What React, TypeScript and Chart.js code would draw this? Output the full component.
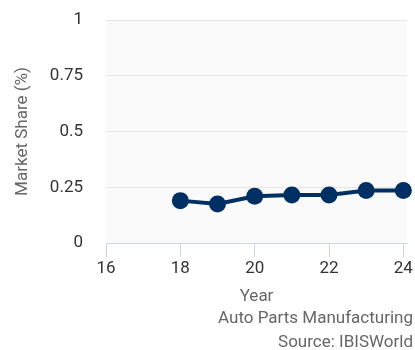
import React, { useEffect, useRef } from "react";
import { Chart, registerables } from "chart.js";

Chart.register(...registerables);

const years = [18, 19, 20, 21, 22, 23, 24];
const marketShare = [0.19, 0.175, 0.21, 0.215, 0.215, 0.235, 0.235];
const yTicks = [0, 0.25, 0.5, 0.75, 1];
const xTicks = [16, 18, 20, 22, 24];
const creditLines = ["Auto Parts Manufacturing", "Source: IBISWorld"];

const FONT = "Roboto";

const bgPlugin = {
  id: "plotBg",
  beforeDraw(chart: any) {
    const { ctx, chartArea } = chart;
    ctx.save();
    ctx.fillStyle = "#fafafa";
    ctx.fillRect(chartArea.left, chartArea.top, chartArea.right - chartArea.left, chartArea.bottom - chartArea.top);
    ctx.restore();
  },
};

const creditsPlugin = {
  id: "credits",
  afterDraw(chart: any) {
    const { ctx, width } = chart;
    ctx.save();
    ctx.font = `17px ${FONT}`;
    ctx.fillStyle = "#666666";
    ctx.textAlign = "right";
    ctx.textBaseline = "alphabetic";
    ctx.fillText(creditLines[0], width - 2, 323);
    ctx.fillText(creditLines[1], width - 2, 347);
    ctx.restore();
  },
};

export default function App() {
  const ref = useRef<HTMLCanvasElement | null>(null);
  useEffect(() => {
    document.body.style.margin = "0";
    const chart = new Chart(ref.current as HTMLCanvasElement, {
      type: "line",
      data: {
        datasets: [
          {
            data: years.map((y, i) => ({ x: y, y: marketShare[i] })),
            borderColor: "#003063",
            backgroundColor: "#003063",
            borderWidth: 4,
            pointRadius: 8.5,
            pointHoverRadius: 8.5,
            pointBorderWidth: 0,
            tension: 0,
            clip: false as any,
          },
        ],
      },
      options: {
        animation: false,
        responsive: false,
        maintainAspectRatio: false,
        layout: { padding: { left: 8, right: 7, top: 20, bottom: 43 }, autoPadding: false },
        plugins: {
          legend: { display: false },
          tooltip: { enabled: false },
        },
        scales: {
          x: {
            type: "linear",
            min: 16,
            max: 24.1,
            afterBuildTicks(scale: any) {
              scale.ticks = xTicks.map((v) => ({ value: v }));
            },
            afterFit(scale: any) {
              scale.height = 64;
            },
            grid: {
              drawOnChartArea: false,
              drawTicks: true,
              tickLength: 14,
              color: "#ccd6eb",
            },
            border: { display: true, color: "#ccd6eb", width: 1 },
            ticks: {
              color: "#333333",
              font: { family: FONT, size: 17 },
              padding: 2,
              maxRotation: 0,
            },
            title: {
              display: true,
              text: "Year",
              color: "#666666",
              font: { family: FONT, size: 17 },
              padding: { top: 0, bottom: 0 },
            },
          },
          y: {
            type: "linear",
            min: 0,
            max: 1,
            afterBuildTicks(scale: any) {
              scale.ticks = yTicks.map((v) => ({ value: v }));
            },
            afterFit(scale: any) {
              scale.width = 98;
            },
            grid: {
              color: "#e6e6e6",
              drawTicks: true,
              tickLength: 20,
              tickColor: "rgba(0,0,0,0)",
            },
            border: { display: false },
            ticks: {
              color: "#333333",
              font: { family: FONT, size: 17 },
              padding: 3,
              callback: (v: any) => String(v),
            },
            title: {
              display: true,
              text: "Market Share (%)",
              color: "#666666",
              font: { family: FONT, size: 17 },
              padding: { top: 5, bottom: 0 },
            },
          },
        },
      },
      plugins: [bgPlugin, creditsPlugin],
    });
    return () => chart.destroy();
  }, []);
  return (
    <div style={{ width: 415, height: 350 }}>
      <canvas ref={ref} width={415} height={350} style={{ display: "block" }} />
    </div>
  );
}
